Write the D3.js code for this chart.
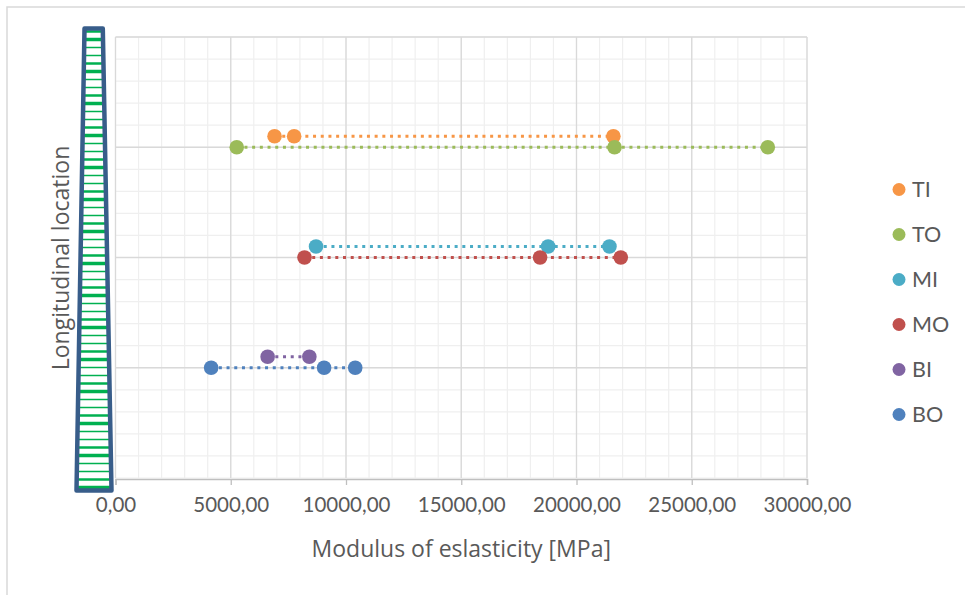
<!DOCTYPE html>
<meta charset="utf-8">
<title>Modulus of elasticity by location</title>
<style>
body { margin: 0; background: #fff; }
text { font-family: Lato, "Liberation Sans", sans-serif; fill: #595959; }
.title { font-family: "Open Sans", Lato, sans-serif; }
</style>
<svg width="965" height="595"></svg>
<script src="https://cdnjs.cloudflare.com/ajax/libs/d3/7.8.5/d3.min.js"></script>
<script>

// series, in legend / drawing order
var seriesNames = ["TI", "TO", "MI", "MO", "BI", "BO"];
var seriesColors = ["#F79646", "#9BBB59", "#4BACC6", "#C0504D", "#8064A2", "#4F81BD"];
// longitudinal location of each series (y value)
var seriesLocation = [3.1, 3.0, 2.1, 2.0, 1.1, 1.0];
// modulus of elasticity values [MPa]
var valuesTI = [6900, 7750, 21600];
var valuesTO = [5260, 21650, 28300];
var valuesMI = [8700, 18770, 21430];
var valuesMO = [8200, 18420, 21920];
var valuesBI = [6600, 8410];
var valuesBO = [4150, 9050, 10400];
var seriesValues = [valuesTI, valuesTO, valuesMI, valuesMO, valuesBI, valuesBO];

var xTicks = [0, 5000, 10000, 15000, 20000, 25000, 30000];

// decorative trunk stripes: repeating thickness pattern
var stripePattern = [2.5, 3.5, 1.5, 1.5];
var stripeCount = 58;

var svg = d3.select("svg");

var x = d3.scaleLinear().domain([0, 30000]).range([115.5, 807]);
var y = d3.scaleLinear().domain([0, 4]).range([478, 37]);

// chart frame (left + top edges only)
svg.append("path")
    .attr("d", "M7,595V7H965")
    .attr("fill", "none")
    .attr("stroke", "#D9D9D9")
    .attr("stroke-width", 1.5);

// minor grid
var grid = svg.append("g");
grid.selectAll(".vminor")
  .data(d3.range(0, 30001, 1000))
  .enter().append("line")
    .attr("x1", d => x(d)).attr("x2", d => x(d))
    .attr("y1", y(0)).attr("y2", y(4))
    .attr("stroke", "#EFEFEF").attr("stroke-width", 1.2);
grid.selectAll(".hminor")
  .data(d3.range(0, 4.01, 0.2))
  .enter().append("line")
    .attr("x1", x(0)).attr("x2", x(30000))
    .attr("y1", d => y(d)).attr("y2", d => y(d))
    .attr("stroke", "#EFEFEF").attr("stroke-width", 1.2);
// major grid
grid.selectAll(".vmajor")
  .data(xTicks)
  .enter().append("line")
    .attr("x1", d => x(d)).attr("x2", d => x(d))
    .attr("y1", y(0)).attr("y2", y(4))
    .attr("stroke", "#D9D9D9").attr("stroke-width", 1.3);
grid.selectAll(".hmajor")
  .data([1, 2, 3, 4])
  .enter().append("line")
    .attr("x1", x(0)).attr("x2", x(30000))
    .attr("y1", d => y(d)).attr("y2", d => y(d))
    .attr("stroke", "#D9D9D9").attr("stroke-width", 1.3);

// x axis
var xAxis = d3.axisBottom(x)
    .tickValues(xTicks)
    .tickSize(6)
    .tickPadding(12)
    .tickFormat(d => d3.format(".2f")(d).replace(".", ","));

var gx = svg.append("g")
    .attr("transform", "translate(0," + (y(0) + 1) + ")")
    .call(xAxis);
gx.select(".domain").attr("stroke", "#BFBFBF").attr("stroke-width", 1.5);
gx.selectAll(".tick line").attr("stroke", "#BFBFBF").attr("stroke-width", 1.3);
gx.selectAll(".tick text")
    .attr("fill", "#595959")
    .style("font-size", "20.5px")
    .style("font-family", "Lato, sans-serif");

// axis titles
svg.append("text")
    .attr("class", "title")
    .attr("x", (x(0) + x(30000)) / 2)
    .attr("y", 557)
    .attr("text-anchor", "middle")
    .style("font-size", "23px")
    .text("Modulus of eslasticity [MPa]");

svg.append("text")
    .attr("class", "title")
    .attr("transform", "translate(69,258) rotate(-90)")
    .attr("text-anchor", "middle")
    .style("font-size", "23px")
    .text("Longitudinal location");

// series: dotted connecting lines then markers
var line = d3.line().x(d => x(d[0])).y(d => y(d[1]));

seriesNames.forEach(function(name, i) {
  var pts = seriesValues[i].map(v => [v, seriesLocation[i]]);
  var g = svg.append("g").attr("class", "series-" + name);
  g.append("path")
      .attr("d", line(pts))
      .attr("fill", "none")
      .attr("stroke", seriesColors[i])
      .attr("stroke-width", 3)
      .attr("stroke-dasharray", "3,4.7");
  g.selectAll("circle")
    .data(pts)
    .enter().append("circle")
      .attr("cx", d => x(d[0]))
      .attr("cy", d => y(d[1]))
      .attr("r", 7.3)
      .attr("fill", seriesColors[i]);
});

// legend
var legend = svg.append("g");
var legendItem = legend.selectAll("g")
  .data(seriesNames)
  .enter().append("g")
    .attr("transform", (d, i) => "translate(899," + (189.5 + i * 45) + ")");
legendItem.append("circle")
    .attr("r", 6.5)
    .attr("fill", (d, i) => seriesColors[i]);
legendItem.append("text")
    .attr("x", 13)
    .attr("y", 7.8)
    .style("font-size", "21.5px")
    .text(d => d);

// trunk sketch beside the y axis
var trunkTop = 28.5, trunkBottom = 490.5;
var leftEdge = d3.scaleLinear().domain([trunkTop, trunkBottom]).range([84.5, 76.5]);
var rightEdge = d3.scaleLinear().domain([trunkTop, trunkBottom]).range([102.8, 111.5]);
var trunk = svg.append("g");
var outline = "M" + leftEdge(trunkTop) + "," + trunkTop +
    "L" + rightEdge(trunkTop) + "," + trunkTop +
    "L" + rightEdge(trunkBottom) + "," + trunkBottom +
    "L" + leftEdge(trunkBottom) + "," + trunkBottom + "Z";
trunk.append("path").attr("d", outline).attr("fill", "#fff");
trunk.selectAll("line")
  .data(d3.range(stripeCount))
  .enter().append("line")
    .attr("x1", k => leftEdge(31.5 + 8 * k))
    .attr("x2", k => rightEdge(31.5 + 8 * k))
    .attr("y1", k => 31.5 + 8 * k)
    .attr("y2", k => 31.5 + 8 * k)
    .attr("stroke", "#00B050")
    .attr("stroke-width", k => stripePattern[k % 4]);
trunk.append("path")
    .attr("d", outline)
    .attr("fill", "none")
    .attr("stroke", "#385D8A")
    .attr("stroke-width", 4.5)
    .attr("stroke-linejoin", "round");

</script>
